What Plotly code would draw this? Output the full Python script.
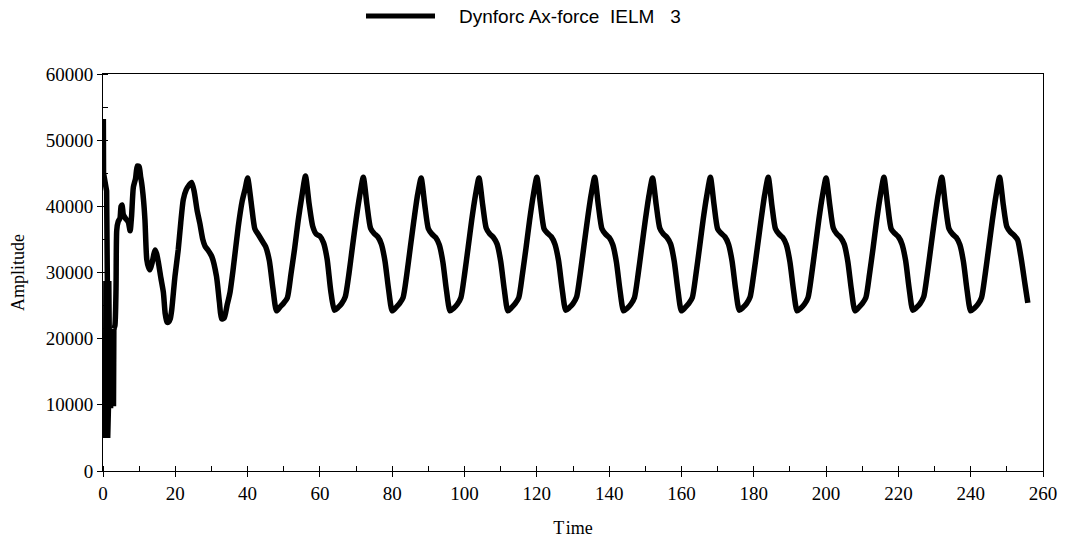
import plotly.graph_objects as go

# ---- data ----
# start-up transient (t < 40 s), irregular sampling
early_time = [0, 0.1, 0.15, 0.5, 1.0, 1.2,
              0.7, 0.8, 0.9, 1.0, 1.1, 1.2, 1.3, 1.4, 1.5, 1.6, 1.7, 1.8, 1.9,
              2.0, 2.1, 2.2, 2.3, 2.4, 2.5, 2.6, 2.7, 2.8, 2.9, 3.0,
              3.3, 3.6, 3.8, 4.2, 4.7, 5.0, 5.3, 5.6, 6.2, 7.0, 7.5, 7.9,
              8.4, 9.0, 9.5, 10.0, 10.4, 10.7, 11.2, 11.6, 12.1, 12.6, 13.0,
              13.6, 14.0, 14.4, 14.8, 15.3, 16.0, 16.7, 17.2, 17.7, 18.1,
              18.6, 19.0, 19.9, 20.8, 21.5, 22.2, 23.0, 23.8, 24.5, 25.2,
              26.0, 26.8, 27.6, 28.2, 29.0, 30.1, 31.4, 32.2, 32.8, 33.5,
              34.3, 35.1, 36.0, 37.4, 38.5, 39.3]
early_amp = [52800, 52800, 45000, 43800, 42300, 28700,
             5000, 28700, 5000, 28700, 5000, 28700, 5000, 28700, 9500, 28700, 9500, 28700, 9500,
             21500, 9500, 21500, 9500, 21500, 9800, 21500, 9800, 21500, 9800, 21500,
             22000, 27500, 36400, 37700, 38200, 40000, 40200, 38800, 38200, 37600, 36300, 38500,
             42900, 44200, 46100, 46000, 44500, 43500, 41000, 38000, 32000, 30800, 30400,
             31500, 32600, 33400, 32900, 31600, 29200, 27000, 23800, 22500, 22500,
             23000, 24300, 29400, 33400, 37500, 41000, 42500, 43200, 43600, 42300,
             39500, 37400, 35000, 34000, 33400, 32400, 29400, 25500, 23000, 23100,
             25000, 26900, 30500, 36900, 40800, 42600]

# steady periodic part, 1 s sampling from t = 40 s
steady_time = list(range(40, 256)) + [255.8]
steady_amp = [
    44300, 40500, 36600, 35700, 34800, 33900, 31800, 27600, 24200, 24800, 25400, 26200, 29800, 33600, 37900, 41500,
    44600, 40400, 37000, 35800, 35500, 34500, 32000, 27200, 24300, 24700, 25300, 26300, 29700, 33900, 38000, 41600,
    44400, 40300, 36700, 35900, 35400, 34300, 31700, 27400, 24200, 24700, 25300, 26200, 29600, 33800, 37900, 41700,
    44300, 40200, 36600, 35800, 35300, 34200, 31600, 27300, 24200, 24600, 25200, 26200, 29700, 33800, 38000, 41600,
    44300, 40300, 36700, 35800, 35300, 34300, 31700, 27400, 24200, 24700, 25300, 26200, 29700, 33700, 37900, 41600,
    44400, 40300, 36600, 35900, 35400, 34300, 31800, 27500, 24300, 24700, 25300, 26300, 29800, 33900, 38000, 41700,
    44400, 40200, 36600, 35800, 35300, 34200, 31600, 27300, 24200, 24600, 25200, 26200, 29700, 33800, 37900, 41600,
    44300, 40300, 36700, 35800, 35300, 34300, 31700, 27400, 24200, 24700, 25300, 26200, 29700, 33800, 38000, 41600,
    44400, 40300, 36600, 35900, 35400, 34300, 31700, 27400, 24300, 24700, 25300, 26300, 29800, 33800, 37900, 41700,
    44400, 40200, 36600, 35800, 35300, 34200, 31600, 27300, 24200, 24600, 25200, 26200, 29700, 33800, 38000, 41600,
    44300, 40300, 36700, 35800, 35300, 34300, 31700, 27400, 24200, 24700, 25300, 26200, 29700, 33700, 37900, 41600,
    44400, 40300, 36600, 35900, 35400, 34300, 31800, 27500, 24300, 24700, 25300, 26300, 29800, 33900, 38000, 41700,
    44400, 40200, 36600, 35800, 35300, 34200, 31600, 27300, 24200, 24600, 25200, 26200, 29700, 33800, 37900, 41600,
    44400, 40300, 36900, 36100, 35600, 34900, 32000, 28300,
    25400]

time = early_time + steady_time
amplitude = early_amp + steady_amp

series_name = "Dynforc Ax-force\u00a0\u00a0IELM\u00a0\u00a0\u00a03"
x_title = "T\u200aime"
y_title = "Amplitude"

# index where the fast start-up oscillation ends (t = 3.0 s)
split = early_time.index(3.0)

fig = go.Figure()
fig.add_trace(go.Scatter(x=time[:split + 1], y=amplitude[:split + 1], mode="lines",
                         name=series_name, line=dict(color="black", width=5.5),
                         showlegend=False))
fig.add_trace(go.Scatter(x=time[split:], y=amplitude[split:], mode="lines",
                         name=series_name,
                         line=dict(color="black", width=5.5, shape="spline", smoothing=0.6),
                         showlegend=False))

serif = "Liberation Serif, Times New Roman, serif"
fig.update_layout(
    width=1065, height=539,
    margin=dict(l=103, r=22, t=74, b=68),
    plot_bgcolor="white", paper_bgcolor="white",
    font=dict(family=serif, size=19, color="black"),
    showlegend=False,
    xaxis=dict(range=[0, 260], tick0=0, dtick=20, ticks="outside", ticklen=5,
               tickcolor="black", showline=True, linecolor="black", linewidth=1,
               mirror=True, showgrid=False, zeroline=False, automargin=False,
               minor=dict(dtick=10, ticks="inside", ticklen=5, tickcolor="black"),
               tickfont=dict(family=serif, size=19),
               title=dict(text=x_title, font=dict(family=serif, size=18), standoff=18)),
    yaxis=dict(range=[0, 60000], tick0=0, dtick=10000, ticks="outside", ticklen=5,
               tickcolor="black", showline=True, linecolor="black", linewidth=1,
               mirror=True, showgrid=False, zeroline=False, tickformat="d", automargin=False,
               minor=dict(dtick=5000, ticks="inside", ticklen=5, tickcolor="black"),
               tickfont=dict(family=serif, size=19),
               title=dict(text=y_title, font=dict(family=serif, size=18), standoff=16)),
)

# legend drawn as a key line plus label above the plot
fig.add_shape(type="line", xref="paper", yref="paper",
              x0=(366 - 103) / 940, x1=(435 - 103) / 940,
              y0=(471 - 16) / 397, y1=(471 - 16) / 397,
              line=dict(color="black", width=5))
fig.add_annotation(xref="paper", yref="paper", x=(457 - 103) / 940, y=(471 - 17) / 397,
                   xanchor="left", yanchor="middle", showarrow=False, text=series_name,
                   font=dict(family="Liberation Sans, Arial, sans-serif", size=19, color="black"))

fig.write_html("out.html")
